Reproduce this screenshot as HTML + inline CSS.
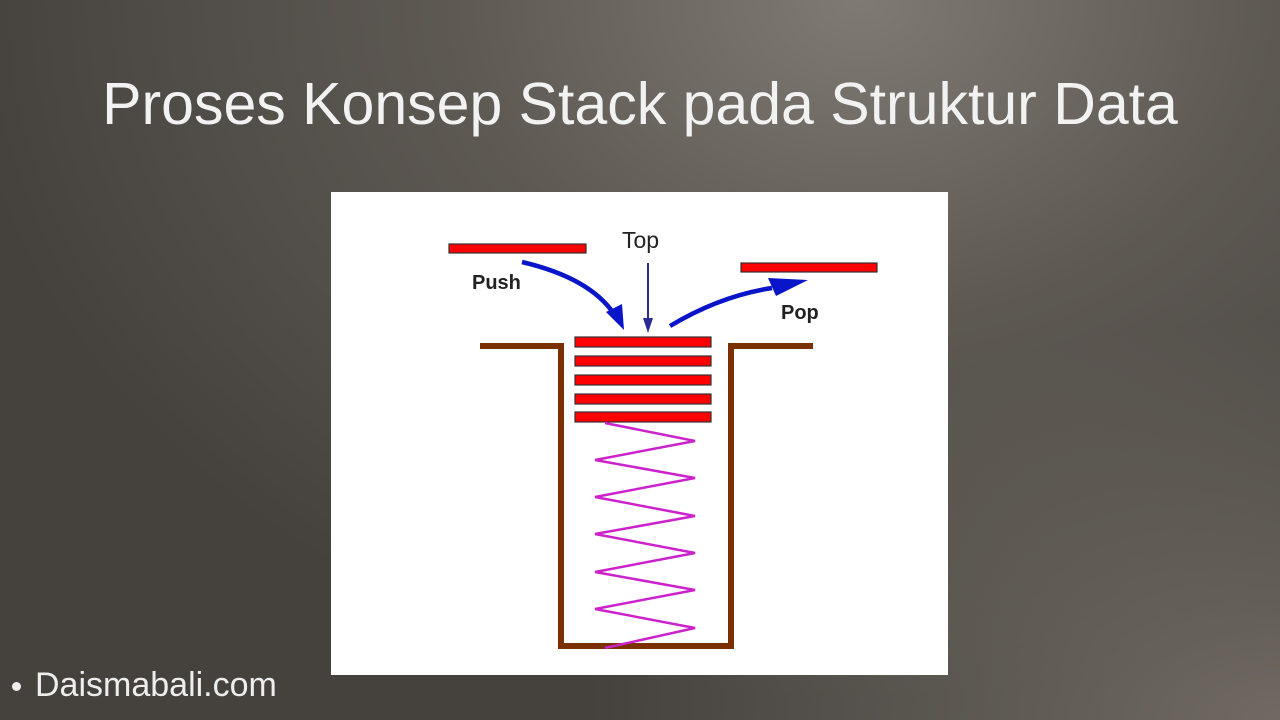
<!DOCTYPE html>
<html><head><meta charset="utf-8"><style>
html,body{margin:0;padding:0}
body{width:1280px;height:720px;overflow:hidden;position:relative;
background:radial-gradient(ellipse 900px 700px at 860px 0px,#7f7a73 0%,#5e5953 45%,#45423e 100%);
font-family:"Liberation Sans",sans-serif;}
.br{position:absolute;right:0;bottom:0;width:700px;height:400px;background:radial-gradient(ellipse at 100% 100%,rgba(140,132,122,.6),rgba(140,132,122,0) 70%)}
h1{position:absolute;left:0;width:1280px;top:70px;margin:0;text-align:center;font-weight:normal;color:#f2f2f2;font-size:59px;white-space:nowrap}
.foot{position:absolute;left:35px;top:666px;color:#eee;font-size:34px;white-space:nowrap}
.dot{position:absolute;left:12px;top:682px;width:9px;height:9px;border-radius:50%;background:#eee}
</style></head><body>
<div class="br"></div>
<h1>Proses Konsep Stack pada Struktur Data</h1>
<svg style="position:absolute;left:0;top:0" width="1280" height="720">
<rect x="331" y="192" width="617" height="483" fill="#fff"/>
<g fill="#ff0000" stroke="#333" stroke-width="1.2">
<rect x="449" y="244" width="137" height="9"/>
<rect x="741" y="263" width="136" height="9"/>
<rect x="575" y="337" width="136" height="10"/>
<rect x="575" y="356" width="136" height="10"/>
<rect x="575" y="375" width="136" height="10"/>
<rect x="575" y="394" width="136" height="10"/>
<rect x="575" y="412" width="136" height="10"/>
</g>
<g stroke="#7a3000" stroke-width="6" fill="none">
<polyline points="480,346 561,346 561,646 731,646 731,346 813,346"/>
</g>
<polyline fill="none" stroke="#cc22cc" stroke-width="2.5" points="605,423 695,441 595,460 695,478 595,497 695,516 595,534 695,553 595,572 695,590 595,609 695,628 605,648"/>
<g fill="none" stroke="#0a14c8" stroke-width="4.5">
<path d="M522,262 Q590,278 614,314"/>
<path d="M670,326 Q720,296 772,288"/>
</g>
<g fill="#0a14c8">
<polygon points="624,330 606,312 622,304"/>
<polygon points="808,280 768,278 776,296"/>
</g>
<line x1="648" y1="263" x2="648" y2="322" stroke="#2a2a90" stroke-width="2"/>
<polygon points="643,318 653,318 648,333" fill="#2a2a90"/>
<text x="622" y="248" font-size="23" fill="#222">Top</text>
<text x="472" y="289" font-size="20" font-weight="bold" fill="#222">Push</text>
<text x="781" y="319" font-size="20" font-weight="bold" fill="#222">Pop</text>
</svg>
<div class="dot"></div>
<div class="foot">Daismabali.com</div>
</body></html>
